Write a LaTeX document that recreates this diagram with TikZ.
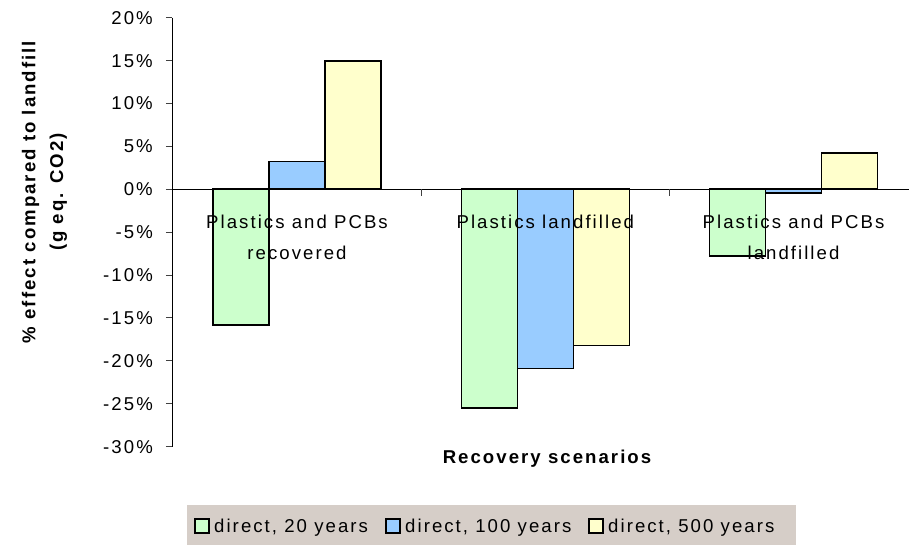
\documentclass[tikz,border=0pt]{standalone}
\usepackage{fontspec}
\setmainfont{Liberation Sans}[LetterSpace=11]
\definecolor{barGreen}{HTML}{CCFFCC}
\definecolor{barBlue}{HTML}{99CCFF}
\definecolor{barYellow}{HTML}{FFFFCC}
\definecolor{legendFill}{RGB}{214,206,200}
\begin{document}
\begin{tikzpicture}[x=1pt,y=-1pt,
  barbox/.style={draw=black,line width=1.5pt},
  gbar/.style={barbox,fill=barGreen},
  bbar/.style={barbox,fill=barBlue},
  ybar/.style={barbox,fill=barYellow},
  axisline/.style={line width=1pt,black},
  tickline/.style={line width=1pt,black!75},
  ticklabel/.style={anchor=base east,inner sep=0pt,font=\fontsize{18.6}{22}\selectfont},
  catlabel/.style={align=center,inner sep=0pt,anchor=base,font=\fontsize{18.6}{31}\selectfont},
  axistitle/.style={inner sep=0pt,font=\fontsize{18.6}{27.6}\selectfont\bfseries},
  legsq/.style={draw=black,line width=1.2pt,minimum size=14pt,inner sep=0pt},
  legtext/.style={anchor=base west,inner sep=0pt,font=\fontsize{18.6}{22}\selectfont}]
\useasboundingbox (0,0) rectangle (909,545);
\def\yz{189.2}
\def\ys{8.58}
\def\xa{172.3}

% value axis with ticks and labels
\draw[axisline] (\xa,{\yz-\ys*20}) -- (\xa,{\yz+\ys*30});
\foreach \v [count=\i] in {20,15,10,5,0,-5,-10,-15,-20,-25,-30}{
  \draw[tickline] (\xa-6.5,{\yz-\ys*\v}) -- (\xa,{\yz-\ys*\v});
  \node[ticklabel] (tick\i) at (153,{\yz-\ys*\v+6.6}) {\v\%};
}

% category axis at zero
\draw[axisline] (\xa,\yz) -- (909,\yz);
\draw[tickline] (421.5,\yz) -- (421.5,\yz+6.5);
\draw[tickline] (669.3,\yz) -- (669.3,\yz+6.5);

% bars: green = 20 years, blue = 100 years, yellow = 500 years
\foreach \c/\g/\b/\y in {297/-15.8/3.25/14.95, 545.3/-25.5/-20.9/-18.2, 793.5/-7.8/-0.45/4.2}{
  \draw[gbar] (\c-84,\yz) rectangle (\c-28,{\yz-\ys*\g});
  \draw[bbar] (\c-28,\yz) rectangle (\c+28,{\yz-\ys*\b});
  \draw[ybar] (\c+28,\yz) rectangle (\c+84,{\yz-\ys*\y});
}

% category labels (base anchor sits on the last line)
\node[catlabel] (cat1) at (297,259.3) {Plastics and PCBs\\recovered};
\node[catlabel] (cat2) at (545.3,228.3) {Plastics landfilled};
\node[catlabel] (cat3) at (793.5,259.3) {Plastics and PCBs\\landfilled};

% axis titles
\node[axistitle,align=center,rotate=90] (ytitle) at (44.5,192) {\% effect compared to landfill\\(g eq. CO2)};
\node[axistitle,anchor=base] (xtitle) at (547,463.3) {Recovery scenarios};

% legend
\fill[legendFill] (187,505) rectangle (796,546);
\node[legsq,fill=barGreen] (lg1) at (202,526) {};
\node[legtext] (lt1) at (214,532.7) {direct, 20 years};
\node[legsq,fill=barBlue] (lg2) at (393,526) {};
\node[legtext] (lt2) at (405,532.7) {direct, 100 years};
\node[legsq,fill=barYellow] (lg3) at (596,526) {};
\node[legtext] (lt3) at (608,532.7) {direct, 500 years};
\end{tikzpicture}
\end{document}
